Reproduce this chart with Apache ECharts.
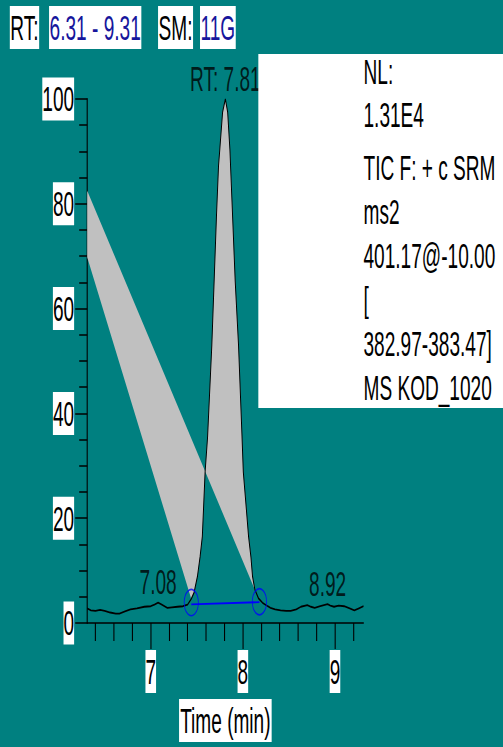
<!DOCTYPE html>
<html>
<head>
<meta charset="utf-8">
<title>RT: 6.31 - 9.31</title>
<script src="https://cdn.jsdelivr.net/npm/echarts@6/dist/echarts.min.js"></script>
<style>
html, body { margin: 0; padding: 0; overflow: hidden; background: #008080; }
/* the plot is laid out wide and squeezed horizontally, like the original export */
#main { width: 923px; height: 747px; transform: scaleX(0.545); transform-origin: 0 0; }
</style>
</head>
<body>
<div id="main"></div>
<script>
// chromatogram trace: time (min) / relative abundance (%)
var traceTime = [6.31, 6.35, 6.40, 6.45, 6.50, 6.56, 6.62, 6.66, 6.72, 6.78, 6.85, 6.93, 7.00, 7.04, 7.08, 7.12, 7.18, 7.23, 7.29, 7.35, 7.40,
	7.44, 7.47, 7.507, 7.536, 7.56, 7.59, 7.617, 7.663, 7.688, 7.714, 7.736, 7.75, 7.78, 7.81, 7.835, 7.859, 7.888, 7.917, 7.953, 7.99, 8.005,
	8.033, 8.062, 8.087, 8.105, 8.13, 8.17, 8.214, 8.27, 8.30, 8.35, 8.41, 8.47, 8.52, 8.58, 8.63, 8.70, 8.74, 8.78, 8.84, 8.90, 8.92,
	8.95, 8.99, 9.04, 9.10, 9.16, 9.21, 9.26, 9.31];
var traceAbund = [2.8, 2.4, 2.3, 2.5, 2.3, 2.0, 1.8, 1.8, 2.2, 2.6, 2.8, 3.1, 3.2, 3.5, 3.9, 3.5, 2.9, 3.0, 3.1, 3.2, 3.5,
	4.6, 5.8, 8.9, 12.7, 16.5, 28.8, 35.5, 53, 65.2, 77.9, 87.3, 90.5, 97.5, 100, 97.5, 90.5, 77.9, 65.2, 53, 36, 28.8,
	22.8, 16.5, 12.7, 8.9, 6.4, 4.7, 3.85, 3.2, 2.9, 2.6, 2.4, 2.3, 2.3, 2.6, 3.1, 3.4, 3.1, 2.9, 3.2, 3.5, 3.6,
	3.3, 3.1, 3.3, 3.2, 2.8, 2.4, 2.8, 3.2];

// integrated peak: start / end of the fill, and the two points the fill is tied to on the left axis
var peakStart = 7.44;
var peakEnd = 8.17;
var fillAnchorTime = [6.31, 6.31];
var fillAnchorAbund = [82.5, 69.8];

// peak baseline and its end markers
var baseTime = [7.44, 8.18];
var baseAbund = [3.55, 3.98];
var markAbund = [3.9, 4.05];

// labelled retention times
var labelTime = [7.08, 7.81, 8.92];
var labelText = ['7.08', 'RT: 7.81', '8.92'];

// axes
var xMajor = [7, 8, 9];
var xMinor = [6.4, 6.6, 6.8, 7.2, 7.4, 7.6, 7.8, 8.2, 8.4, 8.6, 8.8, 9.2];
var xMin = 6.31, xMax = 9.31;

// header and info box
var headerText = ['RT:', '6.31 - 9.31', 'SM:', '11G'];
var infoTop = ['NL:', '1.31E4'];
var infoBottom = ['TIC F: + c SRM', 'ms2', '401.17@-10.00', '[', '382.97-383.47]', 'MS KOD_1020'];

var FONT = '35px "Liberation Sans", Arial, sans-serif';

var trace = [];
for (var i = 0; i < traceTime.length; i++) trace.push([traceTime[i], traceAbund[i]]);

var fillPoly = [];
for (var i = 0; i < traceTime.length; i++) {
	if (traceTime[i] >= peakStart && traceTime[i] <= peakEnd) fillPoly.push([traceTime[i], traceAbund[i]]);
}
for (var i = 0; i < fillAnchorTime.length; i++) fillPoly.push([fillAnchorTime[i], fillAnchorAbund[i]]);

var baseLine = [], baseMarks = [];
for (var i = 0; i < baseTime.length; i++) {
	baseLine.push([baseTime[i], baseAbund[i]]);
	baseMarks.push([baseTime[i], markAbund[i]]);
}

var labels = [];
for (var i = 0; i < labelTime.length; i++) {
	var k = traceTime.indexOf(labelTime[i]);
	labels.push({ value: [labelTime[i], traceAbund[k]], name: labelText[i] });
}

function textEl(txt, x, y, color, bg) {
	return {
		type: 'text', x: x, y: y, z: 100,
		style: {
			text: txt, font: FONT, fill: color,
			align: 'left', verticalAlign: 'middle', textAlign: 'left', textVerticalAlign: 'middle',
			lineHeight: 35, backgroundColor: bg, padding: bg ? [4, 1] : 0
		}
	};
}

var headerX = [18, 90, 290, 367];
var headerColor = ['#000', '#16169c', '#000', '#16169c'];
var graphics = [];
for (var i = 0; i < headerText.length; i++) graphics.push(textEl(headerText[i], headerX[i], 27.5, headerColor[i], '#fff'));
graphics.push({ type: 'rect', z: 90, shape: { x: 474, y: 54, width: 460, height: 354 }, style: { fill: '#fff' } });
for (var i = 0; i < infoTop.length; i++) graphics.push(textEl(infoTop[i], 667, 72 + 43 * i, '#000'));
for (var i = 0; i < infoBottom.length; i++) graphics.push(textEl(infoBottom[i], 667, 168 + 44 * i, '#000'));

var myChart = echarts.init(document.getElementById('main'), null, { renderer: 'svg' });
option = {
	backgroundColor: '#008080',
	animation: false,
	grid: { left: 160, right: 256, top: 99, bottom: 120 },
	xAxis: [
		{
			type: 'value', min: xMin, max: xMax,
			name: 'Time (min)', nameLocation: 'middle', nameGap: 76,
			nameTextStyle: { color: '#000', fontSize: 35, fontFamily: 'Liberation Sans', lineHeight: 35, backgroundColor: '#fff', padding: [4, 2] },
			axisLine: { show: true, lineStyle: { color: '#000', width: 1.5 } },
			axisTick: { show: true, customValues: xMajor, length: 26, lineStyle: { color: '#000', width: 2 } },
			axisLabel: { customValues: xMajor, color: '#000', fontSize: 35, fontFamily: 'Liberation Sans', lineHeight: 35, margin: 27, backgroundColor: '#fff', padding: [4, 0] },
			splitLine: { show: false }
		},
		{
			// minor ticks every 0.2 min
			type: 'value', min: xMin, max: xMax, position: 'bottom',
			axisLine: { show: false },
			axisTick: { show: true, customValues: xMinor, length: 18, lineStyle: { color: '#000', width: 2 } },
			axisLabel: { show: false },
			splitLine: { show: false }
		}
	],
	yAxis: {
		type: 'value', min: 0, max: 100, interval: 20,
		axisLine: { show: true, lineStyle: { color: '#000', width: 2 } },
		axisTick: { show: true, length: 22, lineStyle: { color: '#000', width: 1.5 } },
		minorTick: { show: true, splitNumber: 4, length: 14.7, lineStyle: { color: '#000', width: 1.5 } },
		axisLabel: { color: '#000', fontSize: 35, fontFamily: 'Liberation Sans', lineHeight: 35, margin: 24, backgroundColor: '#fff', padding: [4, 0] },
		splitLine: { show: false }
	},
	graphic: graphics,
	series: [
		{
			type: 'custom', xAxisIndex: 0, z: 1, silent: true,
			renderItem: function (params, api) {
				var pts = fillPoly.map(function (p) { return api.coord(p); });
				return { type: 'polygon', shape: { points: pts }, style: { fill: '#c0c0c0' } };
			},
			data: [[peakStart, 0]]
		},
		{
			type: 'line', xAxisIndex: 0, z: 3, data: trace, symbol: 'none', smooth: false,
			lineStyle: { color: '#000', width: 1.8 }
		},
		{
			type: 'line', xAxisIndex: 0, z: 4, data: baseLine, symbol: 'none',
			lineStyle: { color: '#0000ff', width: 1.8 }
		},
		{
			type: 'scatter', xAxisIndex: 0, z: 5, data: baseMarks, symbol: 'circle', symbolSize: 26,
			itemStyle: { color: 'transparent', borderColor: '#0000ff', borderWidth: 1.6 }
		},
		{
			type: 'scatter', xAxisIndex: 0, z: 6, data: labels, symbolSize: 0,
			label: {
				show: true, position: 'top', distance: 3, color: '#000', fontSize: 35, fontFamily: 'Liberation Sans',
				formatter: function (p) { return p.name; }
			}
		}
	]
};
myChart.setOption(option);
</script>
</body>
</html>
